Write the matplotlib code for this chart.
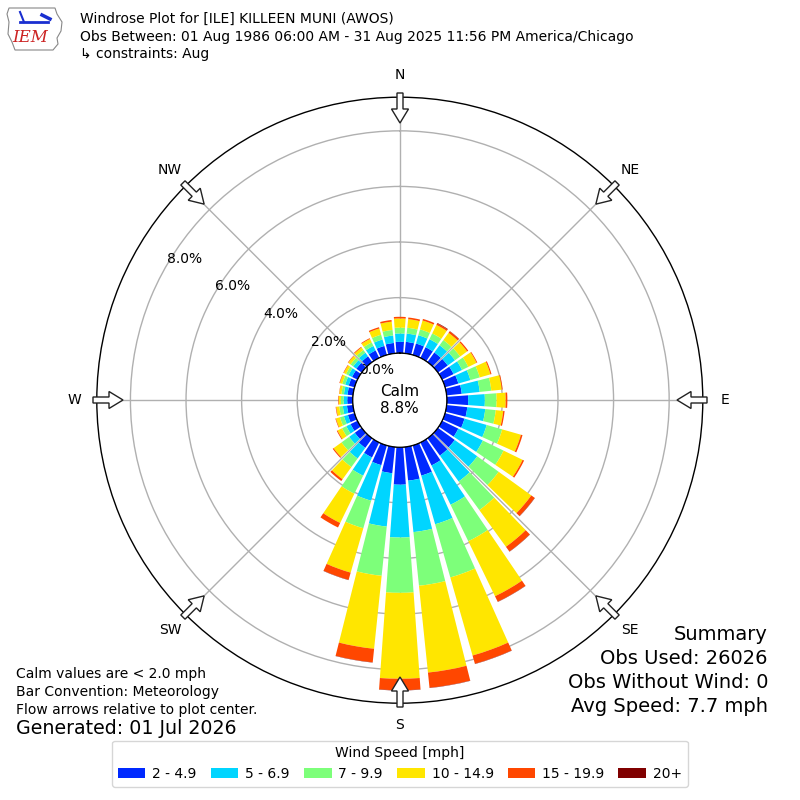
import numpy as np
import matplotlib
matplotlib.use("Agg")
import matplotlib.pyplot as plt
from matplotlib.patches import Patch, FancyArrow, Polygon
from matplotlib.lines import Line2D

# ---------------- data ----------------
directions = list(range(0, 360, 10))  # degrees (meteorological)
speed_labels = ["2 - 4.9", "5 - 6.9", "7 - 9.9", "10 - 14.9", "15 - 19.9", "20+"]

# percent of observations per direction for each speed class
s_2_5 = [0.41, 0.42, 0.43, 0.43, 0.43, 0.44, 0.46, 0.50, 0.55, 0.77, 0.75, 0.73,
         0.65, 0.75, 0.77, 0.92, 1.13, 1.22, 1.35, 0.95, 0.74, 0.60, 0.43, 0.31,
         0.28, 0.25, 0.22, 0.20, 0.20, 0.22, 0.22, 0.24, 0.26, 0.30, 0.34, 0.38]
s_5_7 = [0.30, 0.30, 0.31, 0.32, 0.32, 0.32, 0.34, 0.45, 0.65, 0.60, 0.65, 0.83,
         0.98, 1.00, 1.15, 1.57, 1.82, 1.86, 1.90, 1.93, 1.33, 0.73, 0.47, 0.25,
         0.17, 0.15, 0.15, 0.13, 0.13, 0.13, 0.14, 0.14, 0.16, 0.18, 0.24, 0.27]
s_7_10 = [0.21, 0.21, 0.22, 0.23, 0.23, 0.23, 0.25, 0.35, 0.42, 0.42, 0.38, 0.58,
          0.83, 0.95, 1.27, 1.46, 1.99, 1.94, 1.99, 1.78, 1.03, 0.72, 0.38, 0.34,
          0.17, 0.15, 0.13, 0.10, 0.09, 0.11, 0.10, 0.12, 0.12, 0.14, 0.18, 0.20]
s_10_15 = [0.33, 0.31, 0.33, 0.34, 0.32, 0.31, 0.33, 0.40, 0.38, 0.33, 0.27, 0.70,
           0.76, 1.45, 1.63, 2.20, 2.92, 3.14, 3.09, 2.64, 1.66, 1.17, 0.54, 0.35,
           0.18, 0.15, 0.11, 0.08, 0.08, 0.09, 0.09, 0.10, 0.11, 0.14, 0.23, 0.30]
s_15_20 = [0.06, 0.06, 0.06, 0.06, 0.07, 0.05, 0.03, 0.04, 0.03, 0.06, 0.05, 0.06,
           0.06, 0.15, 0.21, 0.22, 0.31, 0.55, 0.41, 0.49, 0.27, 0.18, 0.08, 0.04,
           0.03, 0.02, 0.02, 0.02, 0.01, 0.02, 0.02, 0.02, 0.03, 0.03, 0.05, 0.06]
s_20p = [0.00, 0.00, 0.00, 0.02, 0.01, 0.00, 0.00, 0.00, 0.00, 0.00, 0.00, 0.00,
         0.00, 0.01, 0.01, 0.01, 0.01, 0.01, 0.01, 0.01, 0.01, 0.00, 0.00, 0.00,
         0.00, 0.00, 0.00, 0.00, 0.00, 0.00, 0.00, 0.00, 0.00, 0.00, 0.00, 0.00]
speed_series = [s_2_5, s_5_7, s_7_10, s_10_15, s_15_20, s_20p]

calm_pct = 8.8
rticks = [0, 2, 4, 6, 8]
compass_labels = ["N", "NE", "E", "SE", "S", "SW", "W", "NW"]

title_lines = ["Windrose Plot for [ILE] KILLEEN MUNI (AWOS)",
               "Obs Between: 01 Aug 1986 06:00 AM - 31 Aug 2025 11:56 PM America/Chicago",
               "\u21b3 constraints: Aug"]
left_notes = ["Calm values are < 2.0 mph", "Bar Convention: Meteorology",
              "Flow arrows relative to plot center."]
generated = "Generated: 01 Jul 2026"
summary_lines = ["Summary", "Obs Used: 26026", "Obs Without Wind: 0",
                 "Avg Speed: 7.7 mph"]

# ---------------- figure ----------------
plt.rcParams['font.family'] = ['DejaVu Sans']
fig = plt.figure(figsize=(8, 8), dpi=100)
ax = fig.add_axes([0.121, 0.121, 0.7575, 0.7575], projection='polar')
ax.set_theta_zero_location('N')
ax.set_theta_direction(-1)

colors = plt.cm.jet(np.linspace(0, 1, 7)[1:])
theta = np.radians(directions)
width = np.radians(8.2)
bottom = np.zeros(len(directions))
for vals, col in zip(speed_series, colors):
    v = np.array(vals)
    ax.bar(theta, v, width=width, bottom=bottom, color=col, edgecolor='none',
           zorder=2, align='center')
    bottom = bottom + v

ax.set_rorigin(-1.69)
ax.set_ylim(0, 9.21)
ax.set_yticks(rticks)
ax.set_yticklabels([f"{t:.1f}%" for t in rticks], fontsize=10)
ax.set_rlabel_position(300)
ax.set_xticks(np.radians(np.arange(0, 360, 45)))
ax.set_xticklabels([])
ax.grid(True, color='#b0b0b0', lw=1.0, zorder=1)
ax.spines['polar'].set_color('black')
ax.spines['polar'].set_linewidth(1.0)

# calm circle
tt = np.linspace(0, 2 * np.pi, 400)
ax.plot(tt, np.zeros_like(tt), color='black', lw=1.0, zorder=3)
ax.text(0.5, 0.5, f"Calm\n{calm_pct:.1f}%", transform=ax.transAxes,
        ha='center', va='center', fontsize=11, zorder=4, linespacing=1.15)

# compass labels
for i, lab in enumerate(compass_labels):
    ang = np.radians(i * 45)
    rr = 0.5365
    ax.text(0.5 + rr * np.sin(ang), 0.5 + rr * np.cos(ang), lab,
            transform=ax.transAxes, ha='center', va='center', fontsize=10)

# flow arrows (hollow) at the outer circle, pointing to center
for i in range(8):
    ang = np.radians(i * 45)
    r0 = 307 / 800.0
    L = 30 / 800.0
    x0 = 0.5 + r0 * np.sin(ang)
    y0 = 0.5 + r0 * np.cos(ang)
    dx = -L * np.sin(ang)
    dy = -L * np.cos(ang)
    arr = FancyArrow(x0, y0, dx, dy, width=6 / 800, head_width=17 / 800,
                     head_length=14 / 800, length_includes_head=True,
                     transform=fig.transFigure, facecolor='white',
                     edgecolor='#222222', lw=1.0, zorder=10)
    fig.add_artist(arr)

# header
for i, line in enumerate(title_lines):
    fig.text(0.1, 1 - (19 + 17.5 * i) / 800, line, ha='left', va='center',
             fontsize=10)

# IEM logo (simple decorative sketch)
def px(x, y):
    return (x / 800.0, 1 - y / 800.0)
outline = [px(x, y) for x, y in [(9, 8), (55, 8), (57, 14), (62, 22), (61, 31),
                                 (57, 38), (58, 44), (53, 50), (15, 50),
                                 (12, 42), (8, 34), (9, 22), (7, 14)]]
fig.add_artist(Polygon(outline, closed=True, fill=False, edgecolor='#888888',
                       lw=0.8, transform=fig.transFigure))
fig.add_artist(Line2D([px(20, 22)[0], px(48, 22)[0]], [px(20, 22)[1], px(48, 22)[1]],
                      color='#1a2fd0', lw=2, transform=fig.transFigure))
fig.add_artist(Line2D([px(20, 12)[0], px(24, 22)[0]], [px(20, 12)[1], px(24, 22)[1]],
                      color='#1a2fd0', lw=1.5, transform=fig.transFigure))
fig.add_artist(Line2D([px(42, 15)[0], px(50, 19)[0]], [px(42, 15)[1], px(50, 19)[1]],
                      color='#1a2fd0', lw=2.5, transform=fig.transFigure))
fig.text(px(30, 38)[0], px(30, 38)[1], "IEM", color='#cc2222', fontsize=12,
         family='DejaVu Serif', style='italic', ha='center', va='center')

# left notes
for i, line in enumerate(left_notes):
    fig.text(0.02, 1 - (674 + 18 * i) / 800, line, ha='left', va='center',
             fontsize=10)
fig.text(0.02, 1 - 729 / 800, generated, ha='left', va='center', fontsize=13.7)

# summary
for i, line in enumerate(summary_lines):
    fig.text(0.96, 1 - (635 + 23.7 * i) / 800, line, ha='right', va='center',
             fontsize=14)

# legend
handles = [Patch(facecolor=c, edgecolor='none') for c in colors]
leg = fig.legend(handles, speed_labels, loc='lower center', ncol=6,
                 bbox_to_anchor=(0.5, 0.008), title="Wind Speed [mph]",
                 fontsize=10, title_fontsize=10, handlelength=2.0,
                 handletextpad=0.5, columnspacing=1.0, frameon=True)

fig.savefig("out.png", dpi=100)
